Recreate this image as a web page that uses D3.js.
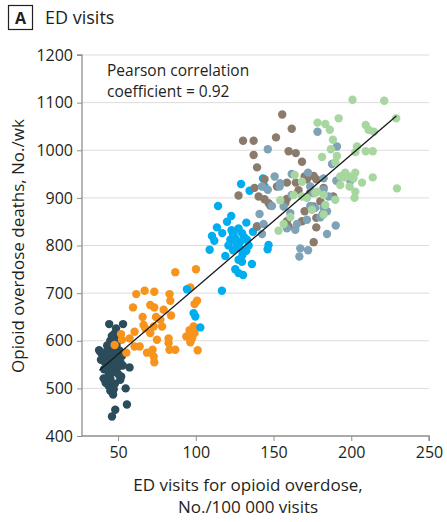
<!DOCTYPE html>
<html>
<head>
<meta charset="utf-8">
<script src="https://cdn.jsdelivr.net/npm/d3@7"></script>
<style>
  html, body { margin: 0; padding: 0; background: #fff; }
  svg { display: block; font-family: "Open Sans", "Noto Sans", sans-serif; }
</style>
</head>
<body>
<svg id="chart" width="447" height="522"></svg>
<script>
// Weekly points: [ED visits per 100 000 visits, opioid overdose deaths per week]
const periodA = [
  [44.3,635],[48.7,626],[53.2,635],[47.6,615],[49.7,608],[37.8,580],[42.9,579],[46.1,583],
  [51.0,579],[52.5,568],[40.7,560],[45.0,563],[49.3,560],[41.8,553],[46.1,556],[51.4,556],
  [57.4,544],[42.9,539],[47.2,543],[40.7,521],[45.0,521],[51.4,518],[43.8,506],[47.2,498],
  [54.9,500],[46.8,487],[55.7,466],[48.2,455],[46.1,441],[39.0,575],[42.0,570],[44.0,548],
  [48.0,550],[50.0,530],[44.0,528],[41.0,540],[46.0,534],[53.0,548],[47.0,572],[43.0,590],
  [49.0,590],[45.0,600],[50.0,545],[42.0,512],[48.0,510],[45.0,495],[52.0,525],[39.0,560],
  [47.0,565],[44.0,580],[50.0,600],[46.0,610]
];
const periodB = [
  [86.8,744],[100.1,750],[61.7,698],[67.1,705],[73.3,703],[83.1,698],[96.5,712],[59.6,670],
  [70.7,675],[73.3,670],[79.3,665],[83.6,684],[100.8,684],[99.2,677],[65.8,650],[74.4,650],
  [84.1,653],[77.2,644],[66.4,633],[72.9,630],[78.3,630],[60.6,619],[67.5,626],[51.9,614],
  [57.4,605],[70.7,616],[82.5,605],[93.9,609],[96.5,609],[99.2,616],[47.8,591],[52.5,602],
  [63.9,588],[75.0,602],[82.5,595],[96.5,597],[97.6,605],[55.3,575],[68.6,575],[72.2,581],
  [83.1,581],[86.8,581],[101.2,580],[72.9,567],[73.3,555],[96.0,622],[98.6,630],[60.6,588]
];
const periodC = [
  [129.1,929],[143.2,941],[144.2,924],[134.6,915],[114.3,883],[122.8,862],[120.1,850],[132.5,848],
  [113.6,838],[110.4,820],[111.9,810],[124.3,826],[127.5,836],[129.7,826],[136.8,829],[122.2,812],
  [125.4,815],[128.6,808],[132.9,812],[108.9,791],[128.2,794],[132.5,789],[119.0,778],[127.5,770],
  [129.7,766],[136.1,761],[146.2,792],[146.8,801],[125.4,750],[127.5,742],[130.4,738],[116.8,705],
  [94.3,708],[98.6,658],[99.7,651],[102.9,628],[139.4,840],[124.0,822],[126.0,805],[121.0,800],
  [131.0,818],[123.0,832],[117.0,826],[134.0,800],[130.0,780],[124.0,790]
];
const periodD = [
  [155.6,1075],[161.7,1045],[130.4,1020],[137.2,1020],[151.6,1027],[137.2,990],[159.7,998],[164.3,994],
  [168.3,976],[139.4,964],[144.2,939],[127.5,905],[137.8,921],[140.4,903],[146.8,889],[152.2,924],
  [158.6,932],[164.3,932],[170.0,945],[171.5,939],[175.8,946],[177.5,939],[157.6,889],[158.6,898],
  [166.1,916],[173.6,911],[180.1,893],[188.4,903],[170.0,872],[175.8,882],[181.5,865],[168.3,851],
  [158.6,851],[139.4,840],[177.5,838],[175.8,807],[147.9,884],[144.2,897],[177.5,858],[159.7,840],
  [182.2,921]
];
const periodE = [
  [178.3,1039],[146.3,1002],[190.8,1008],[187.6,971],[150.7,945],[154.3,931],[161.7,950],[172.2,953],
  [161.7,906],[175.8,910],[182.2,917],[185.4,903],[190.4,936],[194.0,945],[182.2,941],[146.3,917],
  [142.6,924],[149.0,883],[156.5,882],[173.6,883],[182.2,879],[184.4,872],[141.0,866],[143.6,845],
  [158.6,836],[164.0,833],[171.5,854],[180.1,859],[190.0,842],[184.4,824],[142.6,824],[167.2,794],
  [172.2,790],[166.6,777],[165.1,845],[176.8,879],[173.6,924],[199.4,936],[153.9,924],[160.8,868]
];
const periodF = [
  [200.8,1106],[221.2,1104],[178.3,1058],[183.3,1055],[186.2,1043],[191.9,1067],[209.3,1053],[211.1,1043],
  [214.5,1039],[228.9,1067],[188.2,1022],[186.9,1002],[190.8,988],[181.2,986],[203.7,1008],[202.6,996],
  [209.3,998],[213.8,998],[189.7,975],[163.6,948],[192.9,945],[196.1,953],[198.9,945],[202.6,953],
  [192.9,927],[198.9,924],[206.9,932],[213.8,943],[202.6,913],[202.1,900],[229.4,920],[177.9,913],
  [168.3,903],[182.2,906],[189.7,896],[154.3,895],[160.8,860],[174.7,875],[182.2,865],[156.5,845],
  [153.2,831],[162.9,906],[176.8,910],[183.3,885],[171.5,900],[168.3,934],[201.5,941],[195.5,943]
];

const seriesColors = ["#2b4d5b", "#f7941d", "#00aeef", "#8a7b6c", "#7fa3b6", "#a8d6a0"];

// Fitted line endpoints (x, y)
const fitX = [38, 229];
const fitY = [538, 1072];

const xTicks = [50, 100, 150, 200, 250];
const yTicks = [400, 500, 600, 700, 800, 900, 1000, 1100, 1200];

const svg = d3.select("#chart");
const plotLeft = 82, plotRight = 429, plotTop = 55, plotBottom = 436;

const x = d3.scaleLinear().domain([26.8, 250]).range([plotLeft, plotRight]);
const y = d3.scaleLinear().domain([400, 1200]).range([plotBottom, plotTop]);

const textColor = "#231f20";
const axisColor = "#8f8f8f";

// Panel title
svg.append("rect")
  .attr("x", 8.5).attr("y", 5.5).attr("width", 24).attr("height", 24)
  .attr("fill", "none").attr("stroke", textColor).attr("stroke-width", 1.2);
svg.append("text")
  .attr("x", 20.5).attr("y", 23.5).attr("text-anchor", "middle")
  .attr("font-size", 16).attr("font-weight", 700).attr("fill", textColor)
  .text("A");
svg.append("text")
  .attr("x", 45).attr("y", 24)
  .attr("font-size", 18).attr("fill", textColor)
  .text("ED visits");

// Horizontal gridlines
svg.append("g")
  .selectAll("line")
  .data(yTicks.filter(d => d > 400))
  .join("line")
  .attr("x1", plotLeft).attr("x2", plotRight)
  .attr("y1", d => y(d)).attr("y2", d => y(d))
  .attr("stroke", "#dcdcdc").attr("stroke-width", 1);

// Axes
const yAxis = svg.append("g")
  .attr("transform", `translate(${plotLeft},0)`)
  .call(d3.axisLeft(y).tickValues(yTicks).tickSize(5).tickPadding(4).tickFormat(d3.format("d")));
const xAxis = svg.append("g")
  .attr("transform", `translate(0,${plotBottom})`)
  .call(d3.axisBottom(x).tickValues(xTicks).tickSize(5).tickPadding(6).tickFormat(d3.format("d")));

[xAxis, yAxis].forEach(g => {
  g.select(".domain").attr("stroke", axisColor).attr("stroke-width", 1.3);
  g.selectAll(".tick line").attr("stroke", axisColor).attr("stroke-width", 1);
  g.selectAll(".tick text")
    .attr("fill", textColor)
    .attr("font-size", 16)
    .attr("font-family", "'Open Sans', 'Noto Sans', sans-serif");
});
yAxis.select(".domain").attr("d", `M-5,${plotTop}H0V${plotBottom}`);
xAxis.select(".domain").attr("d", `M${plotLeft},0H${plotRight}V5`);

// Points, one layer per period
const periods = [periodA, periodB, periodC, periodD, periodE, periodF];
periods.forEach((pts, i) => {
  svg.append("g")
    .selectAll("circle")
    .data(pts)
    .join("circle")
    .attr("cx", d => x(d[0]))
    .attr("cy", d => y(d[1]))
    .attr("r", 4.2)
    .attr("fill", seriesColors[i]);
});

// Fitted line
svg.append("line")
  .attr("x1", x(fitX[0])).attr("y1", y(fitY[0]))
  .attr("x2", x(fitX[1])).attr("y2", y(fitY[1]))
  .attr("stroke", "#1a1a1a").attr("stroke-width", 1.3);

// Correlation note
const note = svg.append("text")
  .attr("x", 107).attr("font-size", 15.5).attr("fill", textColor);
note.append("tspan").attr("x", 107).attr("y", 76).text("Pearson correlation");
note.append("tspan").attr("x", 107).attr("y", 97).text("coefficient = 0.92");

// Axis titles
const xt = svg.append("text")
  .attr("text-anchor", "middle").attr("font-size", 17).attr("fill", textColor);
xt.append("tspan").attr("x", 248).attr("y", 491).text("ED visits for opioid overdose,");
xt.append("tspan").attr("x", 248).attr("y", 513).text("No./100 000 visits");

svg.append("text")
  .attr("transform", `translate(24,246) rotate(-90)`)
  .attr("text-anchor", "middle").attr("font-size", 17).attr("fill", textColor)
  .text("Opioid overdose deaths, No./wk");
</script>
</body>
</html>
